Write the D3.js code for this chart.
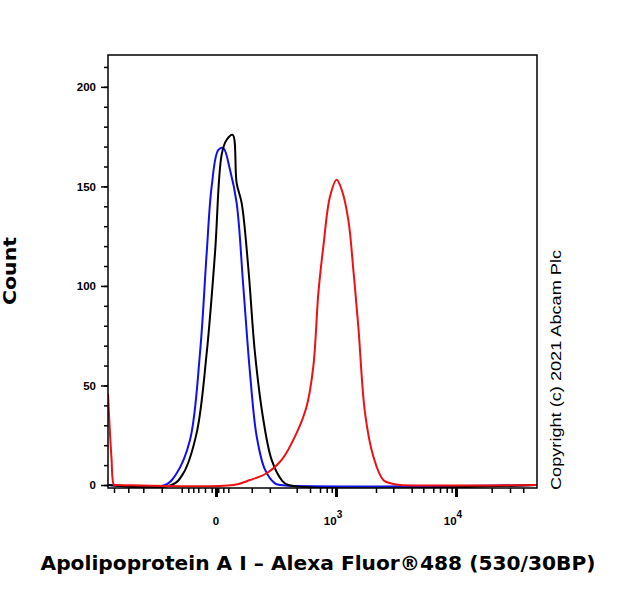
<!DOCTYPE html>
<html><head><meta charset="utf-8">
<script src="https://cdn.jsdelivr.net/npm/d3@7"></script>
<style>body{margin:0;background:#fff}</style></head>
<body><svg id="c" width="620" height="600"></svg>
<script>
// x values are display channels (0-1000) of the biexponential axis
const blueX=[0,132.9,160.1,191.1,214.4,230,241.6,257.2,268.8,284.4,299.9,315.4,331,346.5,366,389.3,400.9,1000];
const blueY=[0,0,5.9,22.6,66.2,116.4,149.9,168.3,169.2,158.3,141.6,99.7,56.2,24.5,7.7,0.8,0,0];
const blackX=[0,148.4,175.6,206.7,230,249.4,265,276.6,290.6,299.9,311.6,327.1,342.6,362,381.5,404.8,420.4,1000];
const blackY=[0,0,5.9,26.2,66.2,116.4,166,173.4,175.9,151.6,141.6,109,66.2,32.9,12.6,2.5,0,0];
const redX=[0,8,14,20,292.2,331,369.9,404.8,439.8,463.1,478.6,490.3,501.9,517.5,533,544.7,560.2,571.9,583.5,599.1,618.5,641.8,665.1,680.7,1000];
const redY=[46,14,0,0,0,2.5,5.9,12.6,26.2,39.6,59.5,96.3,119.7,144.9,153.3,148.3,133.2,108.1,79.6,36.2,14.3,2.5,0.5,0,0];
const xMajorCh=[251.7,531.5,811.2];
const xMajorLabels=["0","10^3","10^4"];
const xMinorCh=[14,47.3,82.3,125.2,171.8,187.2,198.8,210.5,226.1,241.7,257.1,268.8,280.4,335,377.2,439.9,470.9,494.2,509.8,521.5,624.7,665,707.9,735,758.3,773.9,789.5,801.1,894.4,937.1,968];
const yTicks=[0,50,100,150,200];

const svg=d3.select("#c");
const L=108,R=537,T=55,B=488;
const x=d3.scaleLinear().domain([0,1000]).range([L,R]);
const y=d3.scaleLinear().domain([-1.5,216]).range([B,T]);
const font="Arial, 'Liberation Sans', sans-serif";
const wide="'DejaVu Sans', sans-serif";

const yAxis=d3.axisLeft(y).tickValues(d3.range(0,211,10)).tickSize(4).tickFormat("");
svg.append("g").attr("transform",`translate(${L},0)`).call(yAxis).call(g=>g.select(".domain").remove()).selectAll("line").attr("stroke-width",1.5);
const yMaj=d3.axisLeft(y).tickValues(yTicks).tickSize(7).tickPadding(5).tickFormat(d3.format("d"));
svg.append("g").attr("transform",`translate(${L},0)`).call(yMaj).call(g=>g.select(".domain").remove())
 .call(g=>g.selectAll("line").attr("stroke-width",1.5))
 .call(g=>g.selectAll("text").attr("font-family",font).attr("font-size",11.5).attr("font-weight","bold").attr("dy","0.32em"));

const xMin=d3.axisBottom(x).tickValues(xMinorCh).tickSize(5).tickFormat("");
svg.append("g").attr("transform",`translate(0,${B})`).call(xMin).call(g=>g.select(".domain").remove()).selectAll("line").attr("stroke-width",1.5);
const xMaj=d3.axisBottom(x).tickValues(xMajorCh).tickSize(9).tickFormat("");
svg.append("g").attr("transform",`translate(0,${B})`).call(xMaj).call(g=>g.select(".domain").remove()).selectAll("line").attr("stroke-width",3);
xMajorCh.forEach((c,i)=>{
  const lab=xMajorLabels[i];
  const t=svg.append("text").attr("x",x(c)).attr("y",B+37).attr("text-anchor","middle")
   .attr("font-family",font).attr("font-size",11.5).attr("font-weight","bold");
  if(lab.includes("^")){const [b,e]=lab.split("^");t.attr("x",x(c)-3);t.append("tspan").text(b);t.append("tspan").attr("dy",-7).attr("font-size",10).text(e);}
  else t.text(lab);
});

const line=d3.line().x(d=>x(d[0])).y(d=>y(d[1])).curve(d3.curveCatmullRom.alpha(0.5));
svg.append("clipPath").attr("id","cp").append("rect").attr("x",L).attr("y",T).attr("width",R-L).attr("height",B-T);
[[blueX,blueY,"#1010ee"],[blackX,blackY,"#000"],[redX,redY,"#ee1111"]].forEach(([xs,ys,col])=>{
  svg.append("path").attr("clip-path","url(#cp)").datum(xs.map((v,i)=>[v,ys[i]])).attr("d",line)
   .attr("fill","none").attr("stroke",col).attr("stroke-width",2);
});
svg.append("rect").attr("x",L).attr("y",T).attr("width",R-L).attr("height",B-T).attr("fill","none").attr("stroke","#000").attr("stroke-width",1.5);

svg.append("text").attr("transform","translate(16,271) rotate(-90)").attr("text-anchor","middle")
 .attr("font-family",wide).attr("font-size",18).attr("font-weight","bold").attr("textLength",68).attr("lengthAdjust","spacingAndGlyphs").text("Count");
svg.append("text").attr("x",318).attr("y",570).attr("text-anchor","middle")
 .attr("font-family",wide).attr("font-size",19).attr("font-weight","bold").attr("textLength",555).attr("lengthAdjust","spacingAndGlyphs").text("Apolipoprotein A I – Alexa Fluor®488 (530/30BP)");
svg.append("text").attr("transform","translate(561,370) rotate(-90)").attr("text-anchor","middle")
 .attr("font-family",font).attr("font-size",14).attr("textLength",240).attr("lengthAdjust","spacingAndGlyphs").text("Copyright (c) 2021 Abcam Plc");
</script></body></html>
